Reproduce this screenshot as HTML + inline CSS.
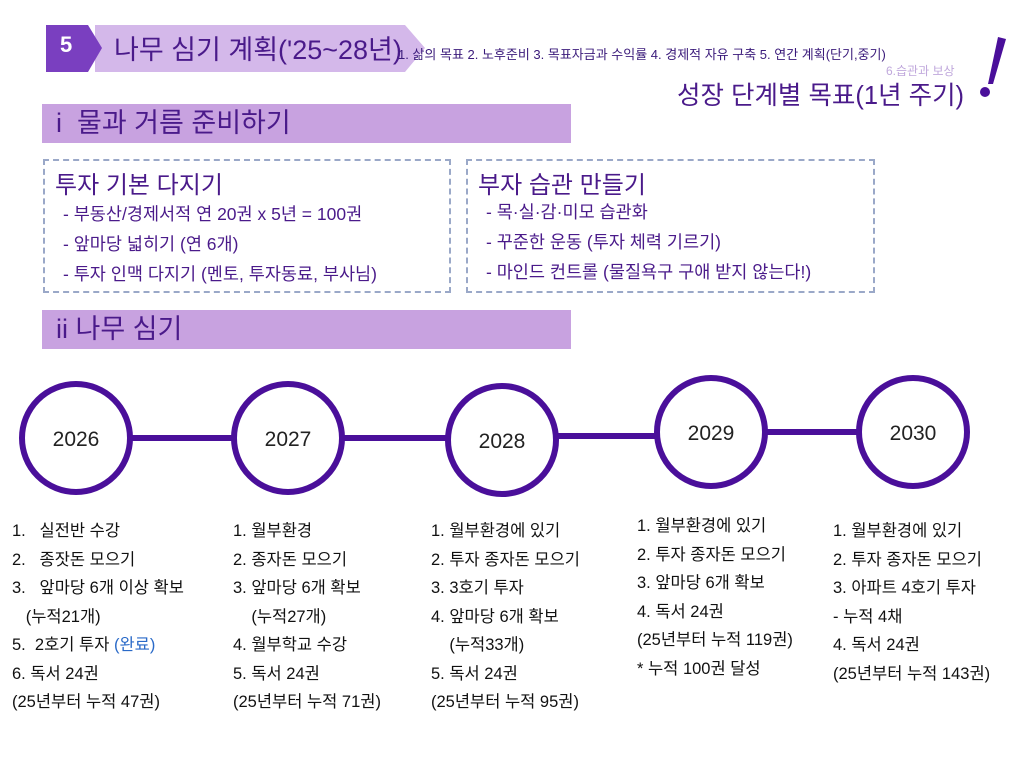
<!DOCTYPE html>
<html><head><meta charset="utf-8"><style>
body{margin:0;width:1017px;height:763px;background:#fff;position:relative;overflow:hidden;font-family:"Liberation Sans","Noto Sans CJK KR",sans-serif}
.a{position:absolute;white-space:nowrap}
.bar{position:absolute;left:42px;width:529px;height:39px;background:#c8a2e0;color:#4a1a8a;font-size:27px;line-height:39px;padding-left:14px;box-sizing:border-box}
.box{position:absolute;top:159px;height:134px;border:2px dashed #9aa8c8;box-sizing:border-box}
.box .h{position:absolute;left:10px;top:4px;font-size:24px;color:#4a1a8a}
.box .l{position:absolute;left:18px;font-size:17.5px;color:#4a1a8a}
.col{position:absolute;top:517px;font-size:16.5px;color:#111;line-height:28.5px}
</style></head><body>
<svg class="a" style="left:0;top:0" width="1017" height="763">
<polygon points="95,25 405,25 425,48 405,72 95,72" fill="#d4b8ea"/>
<polygon points="46,25 88,25 102,48 88,72 46,72" fill="#7a3fc0"/>
<line x1="130" y1="438" x2="234" y2="438" stroke="#4a0f9a" stroke-width="6"/>
<line x1="342" y1="438" x2="448" y2="438" stroke="#4a0f9a" stroke-width="6"/>
<line x1="556" y1="436" x2="657" y2="436" stroke="#4a0f9a" stroke-width="6"/>
<line x1="765" y1="432" x2="859" y2="432" stroke="#4a0f9a" stroke-width="6"/>
<g fill="#fff" stroke="#4a0f9a" stroke-width="6">
<circle cx="76" cy="438" r="54"/><circle cx="288" cy="438" r="54"/><circle cx="502" cy="440" r="54"/><circle cx="711" cy="432" r="54"/><circle cx="913" cy="432" r="54"/>
</g>
<g font-size="21" fill="#222" text-anchor="middle" font-family="Liberation Sans, sans-serif">
<text x="76" y="446">2026</text><text x="288" y="446">2027</text><text x="502" y="448">2028</text><text x="711" y="440">2029</text><text x="913" y="440">2030</text>
</g>
<polygon points="998,37 1006,39 993,84 988,84" fill="#4a0f9a"/>
<circle cx="985" cy="92" r="5" fill="#4a0f9a"/>
</svg>
<div class="a" style="left:60px;top:32px;font-size:22px;font-weight:bold;color:#fff">5</div>
<div class="a" style="left:114px;top:28px;font-size:27px;color:#4a1a8a">나무 심기 계획('25~28년)</div>
<div class="a" style="left:398px;top:44px;font-size:13px;color:#3a1a7a">1. 삶의 목표 2. 노후준비 3. 목표자금과 수익률 4. 경제적 자유 구축 5. 연간 계획(단기,중기)</div>
<div class="a" style="left:886px;top:62px;font-size:12px;color:#c0a8dc">6.습관과 보상</div>
<div class="a" style="left:677px;top:75px;font-size:25.5px;color:#4a1a8a">성장 단계별 목표(1년 주기)</div>
<div class="bar" style="top:104px">i&nbsp; 물과 거름 준비하기</div>
<div class="bar" style="top:310px">ii 나무 심기</div>
<div class="box" style="left:43px;width:408px">
<div class="h">투자 기본 다지기</div>
<div class="l" style="top:40px">- 부동산/경제서적 연 20권 x 5년 = 100권</div>
<div class="l" style="top:70px">- 앞마당 넓히기 (연 6개)</div>
<div class="l" style="top:100px">- 투자 인맥 다지기 (멘토, 투자동료, 부사님)</div>
</div>
<div class="box" style="left:466px;width:409px">
<div class="h">부자 습관 만들기</div>
<div class="l" style="top:38px">- 목·실·감·미모 습관화</div>
<div class="l" style="top:68px">- 꾸준한 운동 (투자 체력 기르기)</div>
<div class="l" style="top:98px">- 마인드 컨트롤 (물질욕구 구애 받지 않는다!)</div>
</div>
<div class="col" style="left:12px">1.&nbsp;&nbsp; 실전반 수강<br>2.&nbsp;&nbsp; 종잣돈 모으기<br>3.&nbsp;&nbsp; 앞마당 6개 이상 확보<br>&nbsp;&nbsp;&nbsp;(누적21개)<br>5.&nbsp; 2호기 투자 <span style="color:#2a6ac8">(완료)</span><br>6. 독서 24권<br>(25년부터 누적 47권)</div>
<div class="col" style="left:233px">1. 월부환경<br>2. 종자돈 모으기<br>3. 앞마당 6개 확보<br>&nbsp;&nbsp;&nbsp;&nbsp;(누적27개)<br>4. 월부학교 수강<br>5. 독서 24권<br>(25년부터 누적 71권)</div>
<div class="col" style="left:431px">1. 월부환경에 있기<br>2. 투자 종자돈 모으기<br>3. 3호기 투자<br>4. 앞마당 6개 확보<br>&nbsp;&nbsp;&nbsp;&nbsp;(누적33개)<br>5. 독서 24권<br>(25년부터 누적 95권)</div>
<div class="col" style="left:637px;top:512px">1. 월부환경에 있기<br>2. 투자 종자돈 모으기<br>3. 앞마당 6개 확보<br>4. 독서 24권<br>(25년부터 누적 119권)<br>* 누적 100권 달성</div>
<div class="col" style="left:833px">1. 월부환경에 있기<br>2. 투자 종자돈 모으기<br>3. 아파트 4호기 투자<br>- 누적 4채<br>4. 독서 24권<br>(25년부터 누적 143권)</div>
</body></html>
